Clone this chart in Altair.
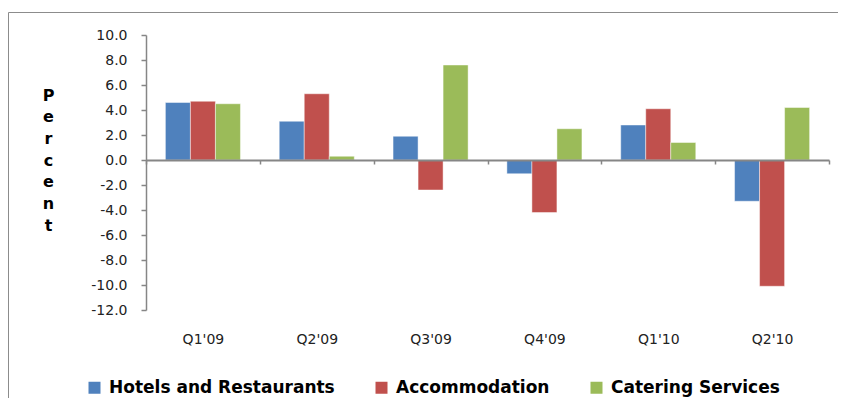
import altair as alt
import pandas as pd

quarters = ["Q1'09", "Q2'09", "Q3'09", "Q4'09", "Q1'10", "Q2'10"]
series = ["Hotels and Restaurants", "Accommodation", "Catering Services"]
hotels = [4.6, 3.1, 1.9, -1.1, 2.8, -3.3]
accommodation = [4.7, 5.3, -2.4, -4.2, 4.1, -10.1]
catering = [4.5, 0.3, 7.6, 2.5, 1.4, 4.2]
colors = ["#4F81BD", "#C0504D", "#9BBB59"]
y_ticks = [-12, -10, -8, -6, -4, -2, 0, 2, 4, 6, 8, 10]
y_title = ["P", "e", "r", "c", "e", "n", "t"]

rows = []
for s, vals in zip(series, [hotels, accommodation, catering]):
    for q, v in zip(quarters, vals):
        rows.append({"quarter": q, "series": s, "value": v})
df = pd.DataFrame(rows)

AX = "#868686"
FONT = "DejaVu Sans"

bars = alt.Chart(df).mark_bar(stroke="white", strokeOpacity=0.45, strokeWidth=1).encode(
    x=alt.X(
        "quarter:N", sort=quarters,
        scale=alt.Scale(paddingInner=0, paddingOuter=0),
        axis=alt.Axis(
            title=None, orient="bottom", offset=-150, zindex=1,
            domainColor=AX, domainWidth=2, tickColor=AX, tickWidth=1.5,
            tickSize=4, tickBand="extent", labelPadding=168, labelAngle=0,
            labelFont=FONT, labelFontSize=14, labelColor="#222222",
        ),
    ),
    xOffset=alt.XOffset(
        "series:N", sort=series,
        scale=alt.Scale(paddingInner=0, paddingOuter=0.775),
    ),
    y=alt.Y(
        "value:Q",
        scale=alt.Scale(domain=[-12, 10], nice=False, zero=False),
        axis=alt.Axis(
            values=y_ticks, grid=False, zindex=1,
            labelExpr="(datum.value < 0 ? '-' : '') + format(abs(datum.value), '.1f')",
            domainColor=AX, domainWidth=1.5, tickColor=AX, tickWidth=1.5, tickSize=5,
            labelPadding=14, labelFont=FONT, labelFontSize=14, labelColor="#222222",
            title=y_title, titleAngle=0, titleX=-98, titleY=52,
            titleBaseline="top", titleAlign="center", titleFont=FONT,
            titleFontSize=16, titleFontWeight="bold", titleLineHeight=21.7,
            titleColor="black",
        ),
    ),
    color=alt.Color(
        "series:N", sort=series,
        scale=alt.Scale(domain=series, range=colors),
        legend=alt.Legend(
            title=None, orient="none", legendX=-60, legendY=344,
            direction="horizontal", symbolType="square", symbolSize=144,
            symbolStrokeWidth=0, symbolOpacity=1, labelFont=FONT,
            labelFontSize=17, labelFontWeight="bold", labelColor="black",
            labelOffset=6, columnPadding=38, labelLimit=400,
        ),
    ),
)

frame_df = pd.DataFrame({"a": [0]})
frame_top = alt.Chart(frame_df).mark_rule(color="#8c8c8c", strokeWidth=1).encode(
    x=alt.value(-137.5), x2=alt.value(800), y=alt.value(-22.5),
)
frame_left = alt.Chart(frame_df).mark_rule(color="#8c8c8c", strokeWidth=1).encode(
    x=alt.value(-137.5), y=alt.value(-22.5), y2=alt.value(500),
)

chart = alt.layer(frame_top, frame_left, bars).properties(
    width=683, height=275,
    autosize=alt.AutoSizeParams(type="none"),
    padding={"left": 138, "top": 27, "right": 9, "bottom": 88},
).configure_view(strokeWidth=0)

chart.save("out.html", embed_options={"renderer": "svg", "actions": False})
